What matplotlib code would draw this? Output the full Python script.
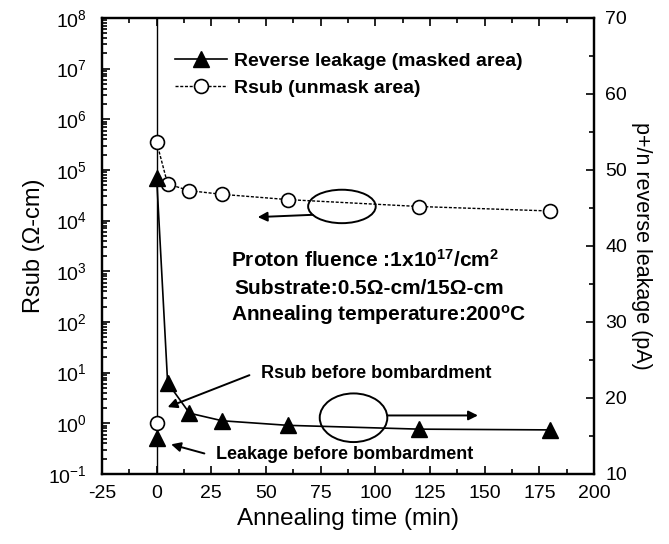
import matplotlib
matplotlib.use("Agg")
import matplotlib.pyplot as plt
from matplotlib.patches import Ellipse
from matplotlib.ticker import MultipleLocator, LogLocator

plt.rcParams['font.family'] = ['Liberation Sans', 'DejaVu Sans']
plt.rcParams['mathtext.default'] = 'regular'
plt.rcParams['mathtext.fontset'] = 'custom'
plt.rcParams['mathtext.rm'] = 'Liberation Sans'
plt.rcParams['axes.unicode_minus'] = False

# annealing time (min)
t_anneal = [0, 5, 15, 30, 60, 120, 180]
# substrate resistivity of the unmasked area (ohm-cm)
rsub = [3.5e5, 5.3e4, 3.9e4, 3.3e4, 2.6e4, 1.9e4, 1.55e4]
# p+/n reverse leakage of the masked area (pA)
leakage = [48.9, 22.0, 18.0, 17.0, 16.4, 15.9, 15.8]
# values before bombardment
rsub_before = 1.0
leakage_before = 14.7

fig = plt.figure(figsize=(6.69, 5.44), dpi=100)
ax = fig.add_axes([0.1525, 0.1287, 0.7355, 0.8383])
ax2 = ax.twinx()

ax.axvline(0, color='black', lw=1.0, zorder=1)

l2, = ax.plot(t_anneal, rsub, linestyle=(0, (2.2, 1.2)), lw=1.0, color='black',
              marker='o', ms=10, mfc='white', mec='black', mew=1.2, zorder=3,
              label='Rsub (unmask area)')
ax.plot([0], [rsub_before], linestyle='none', marker='o', ms=10, mfc='white',
        mec='black', mew=1.2, zorder=3)

l1, = ax2.plot(t_anneal, leakage, '-', lw=1.2, color='black', marker='^', ms=11,
               mfc='black', mec='black', zorder=3, label='Reverse leakage (masked area)')
ax2.plot([0], [leakage_before], linestyle='none', marker='^', ms=11, color='black', zorder=3)

ax.set_xlim(-25, 200)
ax.set_yscale('log')
ax.set_ylim(1e-1, 1e8)
ax2.set_ylim(10, 70)

ax.xaxis.set_major_locator(MultipleLocator(25))
ax.xaxis.set_minor_locator(MultipleLocator(12.5))
ax.yaxis.set_major_locator(LogLocator(base=10, numticks=20))
ax.yaxis.set_minor_locator(LogLocator(base=10, subs=range(2, 10), numticks=20))
ax2.yaxis.set_major_locator(MultipleLocator(10))
ax2.yaxis.set_minor_locator(MultipleLocator(5))

ax.tick_params(which='both', direction='in', top=True, right=False, labelsize=14, width=1.2)
ax.tick_params(which='major', length=6)
ax.tick_params(which='minor', length=3.5)
ax.tick_params(axis='x', which='both', pad=8)
ax.tick_params(axis='y', which='both', pad=11)
ax2.tick_params(which='both', direction='in', labelsize=14, width=1.2, pad=8)
ax2.tick_params(which='major', length=6)
ax2.tick_params(which='minor', length=3.5)
for a in (ax, ax2):
    for s in a.spines.values():
        s.set_linewidth(1.6)

ax.set_xlabel('Annealing time (min)', fontsize=17.5, labelpad=4)
ax.set_ylabel('Rsub (\u03a9-cm)', fontsize=17, labelpad=2)
ax2.set_ylabel('p+/n reverse leakage (pA)', fontsize=15.5, rotation=270, labelpad=18)

ax.legend(handles=[l1, l2], loc='upper left', bbox_to_anchor=(0.148, 0.925), frameon=False,
          prop={'weight': 'bold', 'size': 14}, handlelength=2.7, handletextpad=0.35,
          labelspacing=0.5, borderpad=0, borderaxespad=0)

bold = dict(fontsize=15, fontweight='bold', va='center', ha='left')
ax2.text(33.9, 38.2, 'Proton fluence :1x10$^{17}$/cm$^{2}$', **bold)
ax2.text(35.6, 34.4, 'Substrate:0.5\u03a9-cm/15\u03a9-cm', **bold)
ax2.text(33.9, 30.9, 'Annealing temperature:200$^{o}$C', **bold)

small = dict(fontsize=13, fontweight='bold', va='center', ha='left')
ax2.text(47.8, 23.25, 'Rsub before bombardment', **small)
ax2.text(27.2, 12.5, 'Leakage before bombardment', **small)

arrow = dict(arrowstyle='-|>', color='black', lw=1.4, mutation_scale=14, shrinkA=0, shrinkB=0)
ax2.annotate('', xy=(5.0, 18.8), xytext=(42.4, 23.0), arrowprops=arrow)
ax2.annotate('', xy=(6.6, 13.9), xytext=(21.8, 12.7), arrowprops=arrow)
ax2.annotate('', xy=(46.2, 43.8), xytext=(71.4, 44.1), arrowprops=arrow)
ax2.annotate('', xy=(146.9, 17.7), xytext=(105.4, 17.7), arrowprops=arrow)

ax2.add_patch(Ellipse((84.7, 45.2), 30.9, 4.4, fill=False, lw=1.4, color='black', zorder=4))
ax2.add_patch(Ellipse((90.0, 17.4), 30.9, 6.4, fill=False, lw=1.4, color='black', zorder=4))

fig.savefig('out.png', dpi=100)
